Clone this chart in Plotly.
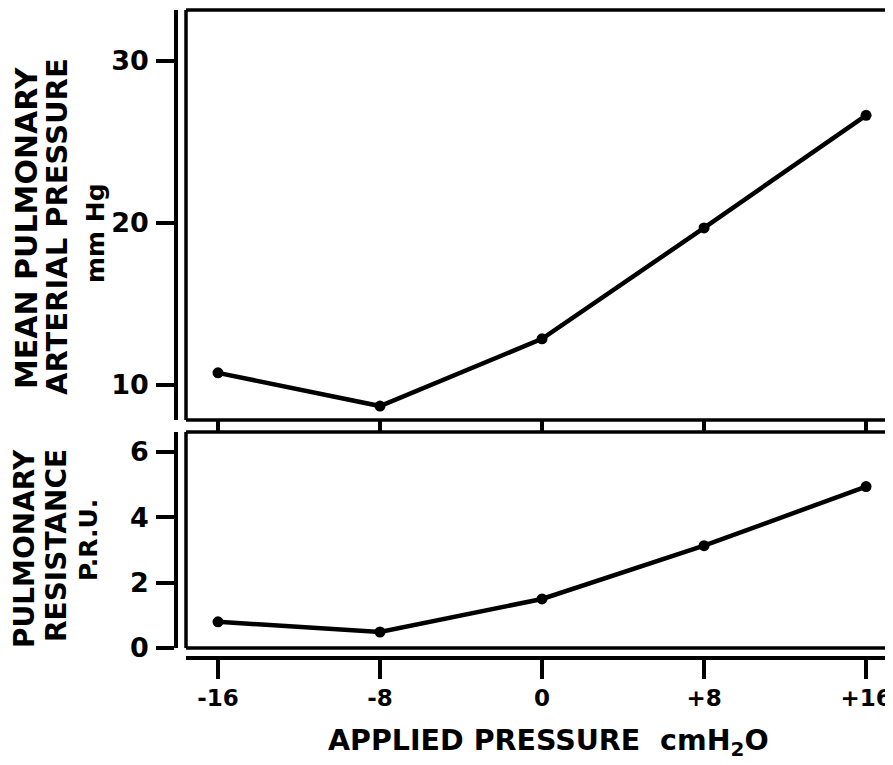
import plotly.graph_objects as go

# Data
applied_pressure = [-16, -8, 0, 8, 16]
x_tick_labels = ["-16", "-8", "0", "+8", "+16"]
mean_pulm_art_pressure = [10.75, 8.7, 12.85, 19.7, 26.65]
pulm_resistance = [0.8, 0.49, 1.5, 3.13, 4.94]
top_y_ticks = [10, 20, 30]
bottom_y_ticks = [0, 2, 4, 6]

# The page body has an 8px margin; the figure is sized to fill the window
OFF = 8
W, H = 893 - OFF, 765 - OFF
FONT = "DejaVu Sans"
LW = 3.5


def py(px):
    return 1 - (px - OFF) / H


def pxx(px):
    return (px - OFF) / W


fig = go.Figure()

fig.add_trace(go.Scatter(
    x=applied_pressure, y=mean_pulm_art_pressure, mode="lines+markers",
    line=dict(color="black", width=4.5),
    marker=dict(color="black", size=11),
    xaxis="x2", yaxis="y2", showlegend=False, cliponaxis=False))

fig.add_trace(go.Scatter(
    x=applied_pressure, y=pulm_resistance, mode="lines+markers",
    line=dict(color="black", width=4.5),
    marker=dict(color="black", size=11),
    xaxis="x", yaxis="y", showlegend=False, cliponaxis=False))

xr = [-17.58, 17.33]
tickfont = dict(family=FONT, size=27, color="black", weight="bold")

fig.update_layout(
    width=W, height=H,
    margin=dict(l=0, r=0, t=0, b=0),
    paper_bgcolor="white", plot_bgcolor="white",
    xaxis=dict(domain=[pxx(186), 1], range=xr, anchor="free", position=py(658),
               tickvals=applied_pressure, ticktext=x_tick_labels,
               showline=True, linecolor="black", linewidth=LW,
               ticks="outside", ticklen=19, tickwidth=LW, tickcolor="black",
               tickfont=dict(family=FONT, size=23, color="black", weight="bold"),
               ticklabelstandoff=0,
               showgrid=False, zeroline=False, automargin=False),
    yaxis=dict(domain=[py(648), py(432)], range=[0, 6.61], anchor="free",
               position=pxx(176),
               tickvals=bottom_y_ticks,
               showline=True, linecolor="black", linewidth=LW,
               ticks="outside", ticklen=18, tickwidth=LW, tickcolor="black",
               tickfont=tickfont, ticklabelstandoff=2,
               showgrid=False, zeroline=False, automargin=False),
    xaxis2=dict(domain=[pxx(186), 1], range=xr, anchor="y2",
                tickvals=applied_pressure, showticklabels=False,
                showline=False, ticks="outside", ticklen=12, tickwidth=LW,
                tickcolor="black", showgrid=False, zeroline=False,
                automargin=False),
    yaxis2=dict(domain=[py(420), py(10)], range=[7.84, 33.15], anchor="free",
                position=pxx(176),
                tickvals=top_y_ticks,
                showline=True, linecolor="black", linewidth=LW,
                ticks="outside", ticklen=18, tickwidth=LW, tickcolor="black",
                tickfont=tickfont, ticklabelstandoff=2,
                showgrid=False, zeroline=False, automargin=False),
)

# Panel frames
for xa, ya in (("x2", "y2"), ("x", "y")):
    xref = f"{xa} domain"
    yref = f"{ya} domain"
    for x0, y0, x1, y1 in ((0, 0, 1, 0), (0, 1, 1, 1), (0, 0, 0, 1)):
        fig.add_shape(type="line", xref=xref, yref=yref, x0=x0, y0=y0, x1=x1, y1=y1,
                      line=dict(color="black", width=LW))

# Axis titles (one rotated annotation per line)
def vtext(text, xpx, ypx, size):
    fig.add_annotation(text=text, x=pxx(xpx), y=py(ypx), xref="paper", yref="paper",
                       xanchor="center", yanchor="middle", textangle=-90,
                       showarrow=False,
                       font=dict(family=FONT, size=size, color="black", weight="bold"))


vtext("MEAN PULMONARY", 27, 228, 30)
vtext("ARTERIAL PRESSURE", 57, 227, 29)
vtext("mm Hg", 95, 233, 25)
vtext("PULMONARY", 24, 549, 28)
vtext("RESISTANCE", 56, 546, 28)
vtext("P.R.U.", 88, 540, 25)

fig.add_annotation(text="APPLIED PRESSURE  cmH<sub>2</sub>O",
                   x=pxx(548), y=py(742), xref="paper", yref="paper",
                   xanchor="center", yanchor="middle",
                   showarrow=False,
                   font=dict(family=FONT, size=28.5, color="black", weight="bold"))

fig.write_html("out.html")
